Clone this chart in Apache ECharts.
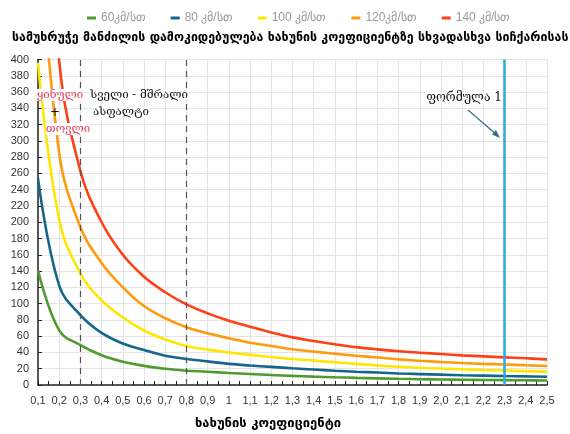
<!DOCTYPE html>
<html>
<head>
<meta charset="utf-8">
<script src="https://cdn.jsdelivr.net/npm/echarts@6/dist/echarts.min.js"></script>
<style>
html,body{margin:0;padding:0;background:#fff;}
#c{width:570px;height:434px;}
</style>
</head>
<body>
<div id="c"></div>
<script>
var coefficients = [0.1,0.2,0.3,0.4,0.5,0.6,0.7,0.8,0.9,1.0,1.1,1.2,1.3,1.4,1.5,1.6,1.7,1.8,1.9,2.0,2.1,2.2,2.3,2.4,2.5];
var seriesNames = ['60კმ/სთ','80 კმ/სთ','100 კმ/სთ','120კმ/სთ','140 კმ/სთ'];
var d60  = [141,67,49,36.5,28.5,23.5,20,17.6,16.3,14.7,13.5,12.3,11.2,10.3,9.5,8.8,8.2,7.6,7.1,6.8,6.5,6.2,6.0,5.8,5.6];
var d80  = [254,122,86,64,51,43,36,32,29,26,24,22.3,20.5,19,17.5,16.3,15.3,14.2,13.4,12.7,12.0,11.5,11.0,10.6,10.2];
var d100 = [396,203,137,104,83,67,56,48,43.5,40,37,34.5,32,30,28,26,24,22.5,21.2,20.2,19.3,18.5,17.8,17.0,16.4];
var d120 = [580,285,194,150,120,97,82,71,63.5,57.4,52,48,44,41,38.5,36,33.8,31.5,29.8,28.3,27,26,25.2,24.2,23.3];
var d140 = [800,398,263,200,160,133,114,99,88,79,71.6,64.6,58.5,54,50,46.5,43.8,41.5,39.7,38,36.4,35.2,34,32.8,31.5];
var seriesValues = [d60,d80,d100,d120,d140];
var colors = ['#4f9b2f','#14668c','#ffe600','#ff9a0c','#ff3f14'];
var roadLines = [0.3, 0.8];
var formulaLine = 2.3;
var yTicks = {min:0, max:400, interval:20};

var chart = echarts.init(document.getElementById('c'));
var series = seriesValues.map(function(vals, i){
  return {
    name: seriesNames[i], type:'line', smooth:0.4, symbol:'none',
    lineStyle:{width:2.6, color:colors[i]}, itemStyle:{color:colors[i]},
    data: vals.map(function(v,k){return [coefficients[k], v];}),
    z: 3
  };
});
series.push({
  type:'line', data:[], silent:true,
  markLine:{
    silent:true, symbol:['none','none'], label:{show:false},
    data:[
      {xAxis:roadLines[0], lineStyle:{type:[6,5], color:'#555', width:1.2}},
      {xAxis:roadLines[1], lineStyle:{type:[6,5], color:'#555', width:1.2}},
      {xAxis:formulaLine, lineStyle:{type:'solid', color:'#35a8dc', width:2.6}}
    ]
  }
});

var serif = '"DejaVu Serif", serif';
chart.setOption({
  animation:false,
  color: colors,
  textStyle:{fontFamily:'"Liberation Sans", Arial, sans-serif'},
  title:{
    text:'სამუხრუჭე მანძილის დამოკიდებულება ხახუნის კოეფიციენტზე სხვადასხვა სიჩქარისას',
    left:7, top:27,
    textStyle:{fontSize:12.4, fontWeight:'bold', color:'#000', fontFamily:'"DejaVu Sans", sans-serif'}
  },
  legend:{
    data: seriesNames, top:7, left:82, itemGap:25,
    icon:'rect', itemWidth:9, itemHeight:3,
    textStyle:{color:'#9a9a9a', fontSize:12}
  },
  grid:{left:38, right:23, top:59.5, bottom:49, containLabel:false},
  xAxis:{
    type:'value', min:0.1, max:2.5, interval:0.1,
    axisLine:{lineStyle:{color:'#222', width:1.5}},
    axisTick:{show:true, inside:true, length:4, lineStyle:{color:'#222'}},
    minorTick:{show:true, splitNumber:2, length:4, lineStyle:{color:'#222'}},
    splitLine:{show:true, lineStyle:{color:'#e4e4e4'}},
    axisLabel:{
      color:'#333', fontSize:11, margin:10,
      formatter:function(v){var r=Math.round(v*10)/10; if(r===1) return '1'; return r.toFixed(1).replace('.',',');}
    }
  },
  yAxis:{
    type:'value', min:yTicks.min, max:yTicks.max, interval:yTicks.interval,
    axisLine:{show:true, lineStyle:{color:'#222', width:1.5}},
    axisTick:{show:true, inside:true, length:4, lineStyle:{color:'#222'}},
    splitLine:{show:true, lineStyle:{color:'#e4e4e4'}},
    axisLabel:{color:'#333', fontSize:11, margin:9}
  },
  series: series,
  graphic:[
    {type:'text', x:268, y:424, style:{text:'ხახუნის კოეფიციენტი', font:'bold 13px "DejaVu Sans"', fill:'#000', align:'center', verticalAlign:'middle'}},
    {type:'text', x:60, y:95, style:{text:'ყინული', font:'11.5px '+serif, fill:'#e8425a', align:'center', verticalAlign:'middle', backgroundColor:'#fff'}, z:10},
    {type:'text', x:55, y:113, style:{text:'+', font:'12px '+serif, fill:'#111', align:'center', verticalAlign:'middle'}, z:10},
    {type:'text', x:68, y:129, style:{text:'თოვლი', font:'11.5px '+serif, fill:'#e8425a', align:'center', verticalAlign:'middle', backgroundColor:'#fff'}, z:10},
    {type:'text', x:139, y:95, style:{text:'სველი - მშრალი', font:'11.5px '+serif, fill:'#111', align:'center', verticalAlign:'middle', backgroundColor:'#fff'}, z:10},
    {type:'text', x:121, y:112, style:{text:'ასფალტი', font:'11.5px '+serif, fill:'#111', align:'center', verticalAlign:'middle', backgroundColor:'#fff'}, z:10},
    {type:'text', x:464, y:98, style:{text:'ფორმულა 1', font:'12px '+serif, fill:'#111', align:'center', verticalAlign:'middle', backgroundColor:'#fff'}, z:10},
    {type:'line', shape:{x1:468, y1:110, x2:497, y2:135}, style:{stroke:'#2d6f8f', lineWidth:1.2}, z:10},
    {type:'polygon', shape:{points:[[500,138],[492,134.5],[496,130]]}, style:{fill:'#2d6f8f'}, z:10}
  ]
});
</script>
</body>
</html>
